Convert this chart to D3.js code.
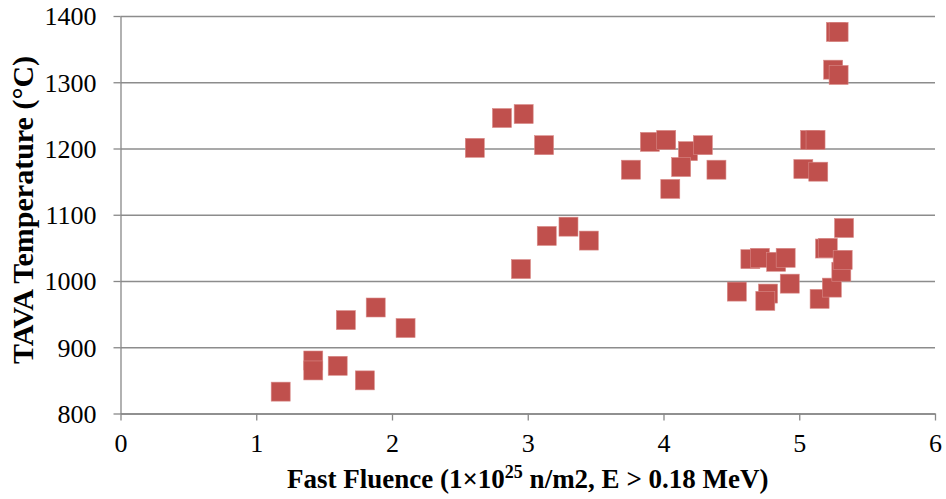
<!DOCTYPE html>
<html>
<head>
<meta charset="utf-8">
<script src="https://cdn.jsdelivr.net/npm/d3@7"></script>
<style>
  body { margin: 0; background: #fff; }
  svg { display: block; font-family: "Liberation Serif", "Times New Roman", serif; }
  .axis path, .axis line { stroke: #888; stroke-width: 1.3; }
  .grid line { stroke: #8c8c8c; stroke-width: 1.3; }
  .grid path { display: none; }
</style>
</head>
<body>
<svg id="chart" width="946" height="499"></svg>
<script>
const fluence = [1.18, 1.42, 1.42, 1.60, 1.66, 1.80, 1.88, 2.10,
  2.61, 2.81, 2.97, 3.12, 2.95, 3.14, 3.30, 3.45,
  3.76, 3.90, 4.02, 4.18, 4.29, 4.13, 4.39, 4.05,
  5.08, 5.12, 5.03, 5.14,
  5.27, 5.29, 5.25, 5.29,
  4.54, 4.64, 4.71, 4.77, 4.75, 4.83, 4.90, 4.93, 5.15, 5.19, 5.21, 5.24, 5.31, 5.33, 5.32];
const temperature = [833, 880, 865, 872, 941, 850, 960, 929,
  1201, 1246, 1252, 1205, 1018, 1068, 1082, 1061,
  1168, 1210, 1213, 1196, 1205, 1172, 1168, 1139,
  1213, 1213, 1169, 1165,
  1376, 1376, 1319, 1311,
  984, 1033, 1035, 981, 970, 1029, 1035, 996, 973, 1049, 1050, 990, 1014, 1080, 1032];
const xTicks = [0, 1, 2, 3, 4, 5, 6];
const yTicks = [800, 900, 1000, 1100, 1200, 1300, 1400];

const serif = 'Liberation Serif, Times New Roman, serif';
const svg = d3.select('#chart');
const margin = {top: 16, left: 120.5, right: 11, bottom: 85.5};
const W = 946 - margin.left - margin.right;
const H = 499 - margin.top - margin.bottom;

const x = d3.scaleLinear().domain([0, 6]).range([0, W]);
const y = d3.scaleLinear().domain([800, 1400]).range([H, 0]);

const g = svg.append('g').attr('transform', `translate(${margin.left},${margin.top})`);

// horizontal gridlines
g.append('g')
  .attr('class', 'grid')
  .call(d3.axisLeft(y).tickValues(yTicks).tickSize(-W).tickFormat(''));

// y axis with outside ticks
const yAxis = g.append('g')
  .attr('class', 'axis')
  .call(d3.axisLeft(y).tickValues(yTicks).tickFormat(d3.format('d'))
    .tickSizeInner(7).tickSizeOuter(0).tickPadding(17));
yAxis.selectAll('text')
  .attr('dy', '0.34em')
  .style('font-family', serif)
  .style('font-size', '26px')
  .style('fill', '#000');

// x axis
const xAxis = g.append('g')
  .attr('class', 'axis')
  .attr('transform', `translate(0,${H})`)
  .call(d3.axisBottom(x).tickValues(xTicks).tickFormat(d3.format('d'))
    .tickSizeInner(7).tickSizeOuter(0).tickPadding(13));
xAxis.selectAll('text')
  .style('font-family', serif)
  .style('font-size', '26px')
  .style('fill', '#000');

// markers
const pts = fluence.map((f, i) => ({f, t: temperature[i]}));
const s = 19;
g.append('g')
  .selectAll('rect')
  .data(pts)
  .join('rect')
  .attr('x', d => x(d.f) - s / 2)
  .attr('y', d => y(d.t) - s / 2)
  .attr('width', s)
  .attr('height', s)
  .attr('fill', '#C0504D')
  .attr('stroke', '#d98b89')
  .attr('stroke-width', 0.6);

// axis titles
const xt = svg.append('text')
  .attr('x', margin.left + W / 2)
  .attr('y', 488)
  .attr('text-anchor', 'middle')
  .style('font-size', '27px')
  .style('font-weight', 'bold');
xt.append('tspan').text('Fast Fluence (1×10');
xt.append('tspan').attr('dy', -10).style('font-size', '18px').text('25');
xt.append('tspan').attr('dy', 10).text(' n/m2, E > 0.18 MeV)');

svg.append('text')
  .attr('transform', `translate(33,210) rotate(-90)`)
  .attr('text-anchor', 'middle')
  .style('font-size', '30px')
  .style('font-weight', 'bold')
  .text('TAVA Temperature (°C)');
</script>
</body>
</html>
